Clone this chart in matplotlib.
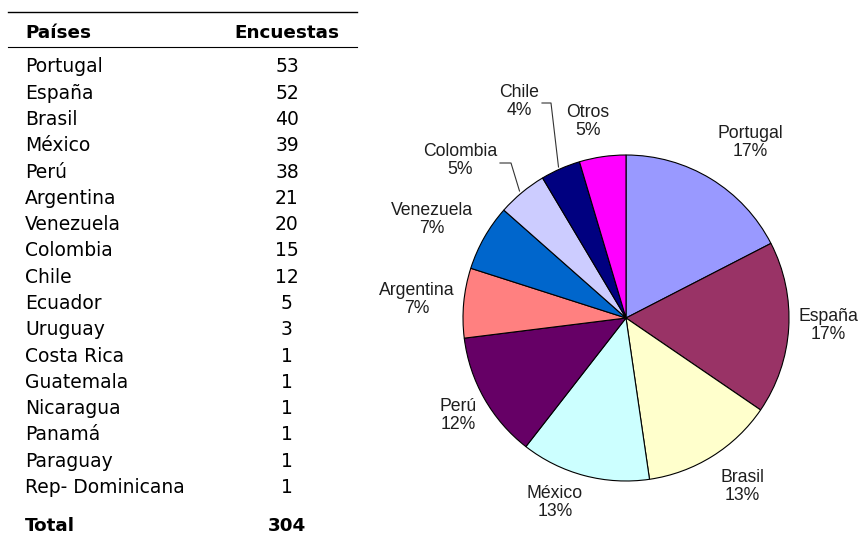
import matplotlib
matplotlib.use("Agg")
import matplotlib.pyplot as plt

# ---------------- data ----------------
paises = ["Portugal", "España", "Brasil", "México", "Perú", "Argentina",
          "Venezuela", "Colombia", "Chile", "Ecuador", "Uruguay", "Costa Rica",
          "Guatemala", "Nicaragua", "Panamá", "Paraguay", "Rep- Dominicana"]
encuestas = [53, 52, 40, 39, 38, 21, 20, 15, 12, 5, 3, 1, 1, 1, 1, 1, 1]
header = ["Países", "Encuestas"]
total_label = "Total"
total_value = 304

pie_labels = ["Portugal", "España", "Brasil", "México", "Perú", "Argentina",
              "Venezuela", "Colombia", "Chile", "Otros"]
pie_values = encuestas[:9] + [sum(encuestas[9:])]
pie_colors = ["#9999FF", "#993366", "#FFFFCC", "#CCFFFF", "#660066",
              "#FF8080", "#0066CC", "#CCCCFF", "#000080", "#FF00FF"]

# ---------------- layout (pixel coordinates, y down) ----------------
W, H = 865, 533
label_centers = [(750, 141), (828, 324), (742, 485), (555, 501), (458, 414),
                 (417, 298), (432, 218), (460, 159), (519, 100), (588, 120)]
leaders = {
    "Chile": [(542, 103), (551, 103), (558.5, 167)],
    "Colombia": [(500, 163), (511, 163), (519.5, 191)],
}

fig = plt.figure(figsize=(W / 100, H / 100), dpi=100)
ax = fig.add_axes([0, 0, 1, 1])

ax.pie(pie_values, colors=pie_colors, startangle=-90, counterclock=True,
       center=(626, 318), radius=163,
       wedgeprops=dict(edgecolor="black", linewidth=0.8))
ax.set_xlim(0, W)
ax.set_ylim(H, 0)
ax.set_aspect("auto")
ax.axis("off")

total = sum(pie_values)
for lab, v, (cx, cy) in zip(pie_labels, pie_values, label_centers):
    pct = "%d%%" % round(100 * v / total)
    ax.text(cx, cy - 3, lab, ha="center", va="baseline", fontsize=12.7,
            family="Liberation Sans", color="#1e1e1e")
    ax.text(cx, cy + 15.3, pct, ha="center", va="baseline", fontsize=12.7,
            family="Liberation Sans", color="#1e1e1e")

for name, pts in leaders.items():
    xs = [p[0] for p in pts]
    ys = [p[1] for p in pts]
    ax.plot(xs, ys, color="#333333", lw=0.8)

# ---------------- table ----------------
x_name = 25
x_num = 287
ax.plot([8, 357], [12.3, 12.3], color="black", lw=1.0)
ax.plot([8, 357], [46.5, 46.5], color="black", lw=0.8)

bold = dict(family="DejaVu Sans", fontweight="bold", fontsize=13.2, color="black")
reg = dict(family="DejaVu Sans", fontsize=13.5, color="black")

ax.text(x_name, 38.5, header[0], ha="left", va="baseline", **bold)
ax.text(x_num, 38.5, header[1], ha="center", va="baseline", **bold)

y0 = 72.5
dy = 26.28
for i, (p, n) in enumerate(zip(paises, encuestas)):
    y = y0 + i * dy
    ax.text(x_name, y, p, ha="left", va="baseline", **reg)
    ax.text(x_num, y, str(n), ha="center", va="baseline", **reg)

ax.text(x_name, 531, total_label, ha="left", va="baseline", **bold)
ax.text(x_num, 531, str(total_value), ha="center", va="baseline", **bold)

fig.savefig("out.png", dpi=100)
